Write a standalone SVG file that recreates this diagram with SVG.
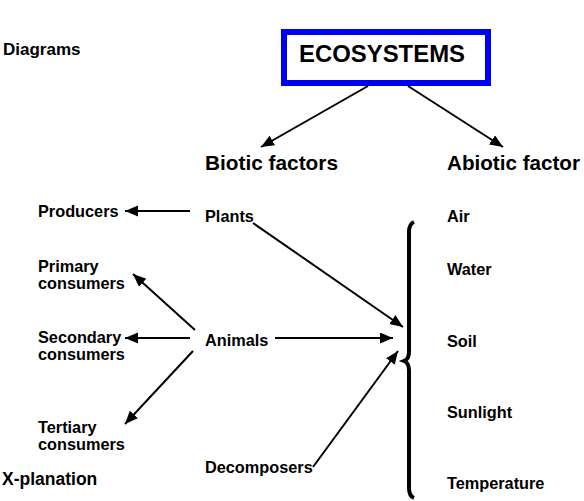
<svg xmlns="http://www.w3.org/2000/svg" width="584" height="501" viewBox="0 0 584 501">
<defs>
<style>
text{font-family:"Liberation Sans",Arial,sans-serif;font-weight:bold;fill:#000}
.s{font-size:16.3px}
.m{font-size:20.5px}
.l{font-size:23px}
.c{stroke:#000;stroke-width:2;fill:none}
</style>
<marker id="ah" markerUnits="userSpaceOnUse" markerWidth="15" markerHeight="12" refX="13" refY="5.5" orient="auto">
<path d="M0,0 L13,5.5 L0,11 Z" fill="#000"/>
</marker>
</defs>
<rect width="584" height="501" fill="#fff"/>
<g id="diagrams"><text x="3" y="55" style="font-size:17px">Diagrams</text></g>
<g id="xplanation"><text x="2" y="485" style="font-size:17.5px">X-planation</text></g>
<g id="ecosystems">
<rect x="284" y="32" width="204" height="51" fill="#fff" stroke="#0000f0" stroke-width="6"/>
<text class="l" x="299" y="62" textLength="166" lengthAdjust="spacingAndGlyphs">ECOSYSTEMS</text>
</g>
<g id="biotic"><text class="m" x="205" y="170" textLength="133" lengthAdjust="spacingAndGlyphs">Biotic factors</text></g>
<g id="abiotic"><text class="m" x="447" y="170" textLength="133" lengthAdjust="spacingAndGlyphs">Abiotic factor</text></g>
<g id="producers"><text class="s" x="38" y="217">Producers</text></g>
<g id="plants"><text class="s" x="205" y="222">Plants</text></g>
<g id="primary"><text class="s" x="38" y="272">Primary</text><text class="s" x="38" y="289">consumers</text></g>
<g id="secondary"><text class="s" x="38" y="343">Secondary</text><text class="s" x="38" y="360">consumers</text></g>
<g id="animals"><text class="s" x="205" y="346">Animals</text></g>
<g id="tertiary"><text class="s" x="38" y="433">Tertiary</text><text class="s" x="38" y="450">consumers</text></g>
<g id="decomposers"><text class="s" x="205" y="473">Decomposers</text></g>
<g id="air"><text class="s" x="447" y="222">Air</text></g>
<g id="water"><text class="s" x="447" y="275">Water</text></g>
<g id="soil"><text class="s" x="447" y="347">Soil</text></g>
<g id="sunlight"><text class="s" x="447" y="418">Sunlight</text></g>
<g id="temperature"><text class="s" x="447" y="489">Temperature</text></g>
<g id="brace"><path d="M414,222 Q409,224 409,232 L409,352 Q409,359 404,361 Q409,363 409,370 L409,488 Q409,496 414,498" fill="none" stroke="#000" stroke-width="4"/></g>
<g id="connectors">
<line class="c" x1="368" y1="86" x2="261" y2="147" marker-end="url(#ah)"/>
<line class="c" x1="408" y1="86" x2="503" y2="147" marker-end="url(#ah)"/>
<line class="c" x1="190" y1="211" x2="125" y2="211" marker-end="url(#ah)"/>
<line class="c" x1="195" y1="330" x2="133" y2="274" marker-end="url(#ah)"/>
<line class="c" x1="190" y1="338" x2="125" y2="338" marker-end="url(#ah)"/>
<line class="c" x1="193" y1="351" x2="125" y2="424" marker-end="url(#ah)"/>
<line class="c" x1="253" y1="223" x2="403" y2="327" marker-end="url(#ah)"/>
<line class="c" x1="275" y1="338" x2="393" y2="338" marker-end="url(#ah)"/>
<line class="c" x1="313" y1="467" x2="398" y2="351" marker-end="url(#ah)"/>
</g>
</svg>
